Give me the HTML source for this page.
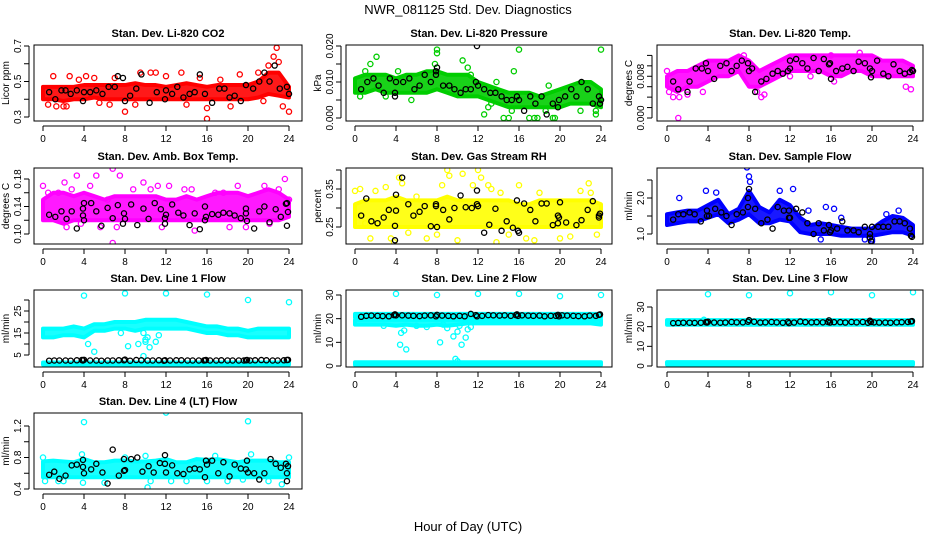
<!DOCTYPE html>
<html><head><meta charset="utf-8"><style>
body{margin:0;background:#fff;}
svg{display:block;font-family:"Liberation Sans",Arial,sans-serif;}
</style></head><body>
<svg id="chart" width="936" height="540" viewBox="0 0 936 540" xmlns="http://www.w3.org/2000/svg">
<rect x="0" y="0" width="936" height="540" fill="#fff"/>
<text x="468" y="14" text-anchor="middle" font-size="13">NWR_081125  Std. Dev. Diagnostics</text>
<text x="468" y="531" text-anchor="middle" font-size="13">Hour of Day (UTC)</text>
</svg>
<script>
const HOURS=[0,1,2,3,4,5,6,7,8,9,10,11,12,13,14,15,16,17,18,19,20,21,22,23,24];
const X_TICKS=[0,4,8,12,16,20,24];
// Panel 1 CO2
const co2Lo=[0.40,0.40,0.39,0.40,0.40,0.41,0.40,0.40,0.40,0.40,0.40,0.40,0.40,0.40,0.40,0.40,0.40,0.40,0.40,0.40,0.40,0.41,0.43,0.42,0.41];
const co2Hi=[0.47,0.47,0.47,0.47,0.48,0.48,0.48,0.48,0.48,0.49,0.48,0.48,0.47,0.48,0.49,0.48,0.47,0.48,0.48,0.48,0.48,0.50,0.55,0.55,0.47];
const co2OutX=[0.5,1,1.3,2,2.3,2.6,4.2,5,5.5,7,8,9.5,10.5,11,9,13.5,14,15.3,16,16,17.3,18.3,19.2,21,21.5,22,22.5,22.8,23,23.4,24,12,3.5,6.5];
const co2OutY=[0.37,0.53,0.36,0.36,0.36,0.53,0.53,0.52,0.38,0.52,0.33,0.55,0.55,0.55,0.37,0.55,0.37,0.52,0.29,0.35,0.51,0.36,0.54,0.55,0.39,0.59,0.64,0.69,0.61,0.36,0.33,0.53,0.51,0.37];
const co2BlkX=[0.6,1.2,1.8,2.2,2.7,3.3,3.9,4,4.6,5.2,5.8,6.4,7,7.3,7.8,8,8.5,9.1,9.6,10.4,11.1,11.9,12,12.6,13.1,13.7,14.3,14.8,15.3,15.8,16.5,17.2,17.7,18.2,18.7,19.3,19.8,20.5,21.1,21.6,22.1,22.6,23.1,23.8,24];
const co2BlkY=[0.44,0.40,0.45,0.45,0.43,0.45,0.39,0.44,0.44,0.45,0.43,0.47,0.47,0.53,0.52,0.39,0.42,0.46,0.54,0.38,0.44,0.40,0.45,0.43,0.47,0.41,0.43,0.44,0.54,0.43,0.38,0.46,0.46,0.41,0.42,0.39,0.48,0.46,0.50,0.55,0.50,0.59,0.46,0.47,0.43];
// Panel 2 Pressure
const prsLo=[.007,.007,.008,.007,.007,.007,.007,.007,.008,.007,.006,.006,.006,.005,.004,.003,.003,.003,.003,.003,.003,.004,.004,.004,.003];
const prsHi=[.011,.012,.012,.012,.011,.012,.012,.013,.013,.012,.012,.012,.010,.009,.008,.007,.007,.007,.006,.007,.008,.009,.010,.010,.008];
const prsOutX=[0.5,1,1.5,2.1,3,4.2,5.5,7.8,8,8,10.5,11,12.6,13,13.3,14.5,15,15.3,15.5,16,17,17.5,17.8,18.6,19.3,19.5,22,23.5,23.5,24,13.8,18.9,11.3];
const prsOutY=[.006,.013,.015,.017,.006,.013,.005,.015,.019,.018,.016,.014,.001,.003,.004,0,0,.002,.013,.019,0,0,0,.002,0,0,.002,.001,.002,.019,.010,.009,.012];
const prsBlkX=[0.6,1.2,1.8,2.3,2.8,3.4,3.9,3.9,4,4.7,5.3,5.8,6.3,6.8,7.4,7.9,7.9,8,8.6,9.2,9.7,10.3,10.8,11.3,11.8,11.9,12,12.6,13.2,13.7,14.3,14.8,15.3,15.8,16,16.5,17.1,17.6,18.2,18.7,19.3,19.8,19.9,20.5,21.1,21.6,22.1,22.7,23.2,23.8,23.9,24];
const prsBlkY=[.008,.010,.011,.009,.007,.011,.006,.007,.010,.010,.011,.008,.009,.012,.010,.012,.013,.014,.009,.009,.008,.007,.008,.008,.010,.020,.009,.008,.007,.007,.006,.005,.005,.006,.005,.002,.006,.004,.006,.001,.004,.003,.005,.006,.008,.006,.010,.008,.004,.006,.004,.005];
// Panel 3 Li-820 Temp
const tmpLo=[.006,.005,.006,.006,.007,.008,.008,.009,.006,.006,.007,.008,.009,.009,.009,.009,.008,.008,.009,.009,.008,.008,.008,.008,.008];
const tmpHi=[.008,.009,.009,.010,.011,.011,.011,.012,.011,.009,.010,.011,.012,.012,.012,.012,.012,.012,.012,.012,.012,.011,.011,.011,.010];
const tmpOutX=[0,0.2,0.6,1.1,1.2,2,3.5,8.8,9.2,9.5,12,14,16.3,23.3,23.8,16,18.8,7.5];
const tmpOutY=[.009,.005,.004,0,.004,.0045,.005,.005,.004,.0045,.008,.008,.007,.006,.0055,.012,.0125,.012];
const tmpBlkX=[0.6,1.1,2,2.2,2.8,3.4,3.8,4,4.6,5.2,5.8,6.3,6.8,7.3,7.9,8,8.3,8.6,9.2,9.7,10.3,10.8,11.3,11.8,12,12,12.6,13.2,13.7,14.3,14.8,15.3,15.8,15.9,16,16.5,17.1,17.6,18.2,18.7,19.3,19.8,19.9,20,20.5,21.1,21.6,22.1,22.7,23.2,23.7,23.9,24];
const tmpBlkY=[.007,.0055,.005,.007,.0095,.0095,.0105,.009,.0075,.010,.0105,.009,.010,.011,.0105,.009,.0095,.005,.007,.0075,.0085,.009,.0085,.009,.011,.0095,.0113,.0105,.0095,.0115,.009,.0113,.0103,.0105,.0075,.009,.0095,.0098,.009,.0108,.0105,.0095,.0078,.009,.011,.0085,.008,.0103,.009,.0085,.0088,.0092,.009];
// Panel 4 Amb Box Temp
const ambLo=[.12,.12,.115,.12,.12,.12,.12,.12,.12,.12,.12,.12,.12,.12,.12,.12,.12,.12,.12,.12,.12,.12,.12,.12,.125];
const ambHi=[.15,.16,.16,.155,.16,.155,.15,.155,.155,.155,.155,.155,.15,.15,.155,.15,.155,.16,.16,.16,.155,.16,.165,.16,.15];
const ambOutX=[0,0.5,1.5,2.1,2.3,2.8,3.3,4.6,5.2,5.6,6.3,6.8,6.8,7.5,7.2,8.8,9.8,10.5,11.2,12.3,11.6,13.8,14.5,14.8,16.8,17.6,18.2,19,21.6,22.1,23.6,23,24,3.7,19.8];
const ambOutY=[.170,.160,.16,.175,.11,.165,.185,.170,.185,.11,.15,.195,.087,.185,.11,.165,.175,.165,.170,.170,.11,.165,.165,.105,.16,.16,.11,.17,.17,.115,.18,.165,.15,.115,.11];
const ambBlkX=[0.6,1.2,1.8,2.3,2.8,3.3,3.9,3.9,4,4,4.7,5.2,5.7,6.3,6.8,7.3,7.8,7.9,8,8.6,9.2,9.8,10.3,10.9,11.5,11.9,11.9,12,12.6,13.2,13.7,14.3,14.8,15.3,15.8,15.8,15.9,16.5,17.1,17.6,18.2,18.7,19.3,19.8,19.8,19.9,20.6,21.1,21.6,22.1,22.7,23.2,23.7,23.8,23.9,23.8];
const ambBlkY=[.128,.125,.133,.122,.133,.108,.137,.127,.145,.120,.145,.133,.112,.138,.123,.142,.115,.130,.122,.143,.113,.137,.122,.145,.136,.115,.123,.128,.143,.131,.127,.113,.130,.107,.140,.120,.125,.129,.128,.131,.130,.127,.123,.137,.130,.119,.108,.133,.140,.117,.136,.125,.144,.145,.132,.112];
// Panel 5 Gas Stream RH
const rhLo=[.25,.25,.25,.25,.25,.25,.25,.25,.25,.25,.25,.25,.25,.25,.25,.25,.25,.25,.25,.25,.25,.25,.25,.25,.25];
const rhHi=[.31,.32,.32,.32,.33,.32,.32,.32,.32,.33,.32,.32,.32,.32,.32,.32,.31,.31,.32,.32,.32,.32,.32,.32,.31];
const rhOutX=[0,0.5,1,1.5,2,3,3.5,3.8,4.3,4.6,5.2,6,7,8,9,9.2,10,10.5,11.5,12,12.3,13,13.3,13.8,14.2,15,16,16.7,17.5,18,20,21,22,22.8,23,23.6,8.5];
const rhOutY=[.345,.35,.26,.22,.345,.355,.22,.21,.38,.365,.235,.33,.22,.23,.40,.385,.215,.39,.36,.40,.38,.36,.35,.21,.34,.23,.36,.22,.215,.34,.22,.225,.345,.365,.34,.23,.36];
const rhBlkX=[0.6,1.1,1.6,2.2,2.8,3.3,3.9,3.9,4,4,4.6,5.2,5.7,6.3,6.8,7.4,7.9,7.9,8,8.6,9.2,9.7,10.3,10.8,11.4,11.9,11.9,12,12.6,13.1,13.7,14.3,14.8,15.4,15.8,15.9,16,16.5,17.1,17.6,18.2,18.7,19.3,19.8,19.8,19.9,20,20.6,21.6,22.1,22.7,23.2,23.8,23.9,23.8];
const rhBlkY=[.28,.325,.265,.26,.275,.295,.253,.215,.335,.293,.38,.31,.28,.29,.305,.252,.31,.305,.25,.295,.27,.30,.333,.302,.30,.346,.31,.305,.235,.256,.298,.24,.265,.248,.32,.24,.235,.312,.295,.265,.312,.312,.255,.26,.28,.275,.315,.262,.255,.268,.295,.318,.28,.285,.275];
// Panel 6 Sample Flow
const sfLo=[1.25,1.30,1.35,1.35,1.45,1.55,1.30,1.40,1.55,1.30,1.30,1.40,1.35,1.05,1.00,1.00,1.00,0.95,0.95,0.95,0.95,1.00,1.05,1.05,0.95];
const sfHi=[1.55,1.60,1.65,1.65,1.80,1.95,1.55,1.70,2.20,1.75,1.60,1.95,1.80,1.45,1.25,1.30,1.25,1.20,1.15,1.15,1.15,1.35,1.50,1.45,1.25];
const sfOutX=[7.8,8,8.1,3.8,4.8,11,12.3,15.5,16.3,13.8,19.3,15,1.2,21.4,22.6,20,17,20];
const sfOutY=[2.85,2.60,2.45,2.20,2.15,2.20,2.25,1.75,1.70,1.65,0.85,0.85,2.0,1.55,1.65,0.80,1.45,0.85];
const sfBlkX=[0.6,1.1,1.6,2.2,2.7,3.3,3.9,3.9,4.1,4.7,5.3,5.8,6.3,6.8,7.4,7.9,7.9,8,8.6,9.2,9.8,10.3,10.8,11.4,11.9,11.9,12,12.6,13.2,13.7,14.3,14.8,15.3,15.8,15.9,16,16.6,17.1,17.6,18.2,18.7,19.3,19.8,19.8,19.9,20,20.6,21.1,21.6,22.2,22.7,23.2,23.7,23.8,23.9];
const sfBlkY=[1.4,1.55,1.55,1.6,1.55,1.35,1.5,1.65,1.5,1.7,1.6,1.5,1.25,1.55,1.6,1.75,2.0,2.25,1.7,1.3,1.4,1.15,1.75,1.65,1.65,1.45,1.45,1.7,1.6,1.3,1.0,1.3,1.1,1.25,1.05,1.1,1.15,1.35,1.1,1.1,1.05,1.2,0.9,1.0,0.8,1.2,1.2,1.2,1.2,1.35,1.35,1.3,1.15,0.95,0.92];
// Lines 1-3
const lineBlkX=[0.6,1.1,1.6,2.2,2.7,3.3,3.8,3.9,4.0,4.6,5.2,5.7,6.3,6.8,7.4,7.9,8.0,8.5,9.1,9.6,10.2,10.7,11.3,11.8,11.9,12.4,13.0,13.5,14.1,14.6,15.2,15.7,15.8,15.9,16.3,16.9,17.4,18.0,18.5,19.1,19.6,19.8,19.9,20.2,20.7,21.3,21.8,22.4,22.9,23.5,23.8,23.9];
const l1BlkY=[2.4,2.5,2.5,2.5,2.4,2.6,2.7,2.5,2.8,2.5,2.5,2.4,2.5,2.5,2.6,2.6,2.9,2.4,2.7,2.6,2.5,2.5,2.6,2.4,2.6,2.5,2.6,2.6,2.5,2.5,2.5,2.5,2.6,2.7,2.5,2.5,2.6,2.5,2.5,2.5,2.5,2.6,2.7,2.5,2.6,2.7,2.6,2.5,2.5,2.6,2.7,2.8];
const l2BlkY=[20.8,21.2,21.3,21.2,21.1,21.0,21.5,21.8,21.4,21.4,21.3,21.2,21.1,21.3,21.4,21.0,21.6,21.3,21.2,21.0,21.2,21.0,22.0,21.5,21.0,21.2,21.5,21.4,21.3,21.4,21.2,21.5,21.8,21.2,21.4,21.3,21.2,21.3,21.0,21.2,21.2,21.6,21.0,21.4,21.3,21.2,21.1,21.0,21.3,21.2,21.6,21.8];
const l3BlkY=[21.8,21.9,22.0,22.0,21.9,22.0,22.3,22.1,22.5,22.1,22.0,22.1,22.4,22.2,22.2,22.5,23.3,22.5,22.1,22.2,22.4,22.2,22.0,22.5,21.8,22.1,22.6,22.3,22.2,22.3,22.2,22.4,23.2,22.1,22.3,22.3,22.1,22.4,22.2,22.4,22.0,23.0,22.4,22.2,22.1,22.1,22.0,22.2,22.3,22.4,22.6,22.8];
const l1Lo=[13,13,14,14,13,16,16,17,17,16,17,17,17,17,17,16,15,15,14,14,13,13,13,13,13];
const l1Hi=[17,17,17,18,17,19,19,20,20,20,21,21,21,21,20,19,18,18,17,17,16,17,17,17,17];
const baseHours=[0,24];
const l1BaseLo=[0.6,0.6];
const l1BaseHi=[1.6,1.6];
const l1OutX=[4,8,12,16,20,24,4.4,5,7.6,8.3,9.3,9.8,10,10.2,10.4,11,11.3,9.8,10];
const l1OutY=[32,33,33,32.5,30,29,10,6.5,15,9,10,4.5,12,13,8.5,11,14,15,11];
const l2Lo=[17.5,17.5,17.5,17.5,17,17.5,17,17,17.5,17,17.5,18,18,18,18,18,18,18,18,18,18,18,18,18,17.5];
const l2Hi=[19.5,19.5,19.5,19.5,19.5,19.5,19.5,19.5,19.5,19.5,19.5,19.5,19.5,19.5,19.5,19.5,19.5,19.5,19.5,19.5,19.5,19.5,19.5,19.5,19.5];
const l2TopLo=[20.5,20.5];
const l2TopHi=[22,22];
const l2BaseLo=[0.5,0.5];
const l2BaseHi=[1.6,1.6];
const l2OutX=[4,8,12,16,20,24,4.4,4.5,4.8,5,6,8.3,8.6,9,9.6,9.8,10,10.2,10.4,10.8,11,11.3,2.8,7,10];
const l2OutY=[30.5,30,30.5,30.5,29.5,30,9,14,15,7,17,10,17.5,16,12.5,3,14.5,17,9,12,15.5,16.5,17,16.5,2];
const l3Lo=[21,21];
const l3Hi=[23.3,23.3];
const l3BaseLo=[0.7,0.7];
const l3BaseHi=[2.0,2.0];
const l3OutX=[4,8,12,16,20,24,3.6];
const l3OutY=[36.5,36,37,37.5,36,37.5,23.5];
// Line 4
const l4Lo=[.55,.55,.55,.55,.55,.55,.55,.55,.55,.55,.55,.55,.55,.55,.55,.55,.55,.55,.55,.55,.55,.55,.55,.55,.55];
const l4Hi=[.75,.76,.75,.74,.78,.74,.74,.76,.76,.75,.75,.76,.78,.74,.74,.78,.77,.78,.76,.74,.76,.76,.76,.74,.74];
const l4OutX=[0,0.2,1.5,2,3.8,3.9,4,6,8,10,10.2,10.5,12,12.5,16,16.8,18,20,20.3,22,23.3,24,19.5,14];
const l4OutY=[0.8,0.5,0.5,0.5,0.84,0.48,1.25,0.48,0.8,0.82,0.42,0.5,1.37,0.5,0.5,0.82,0.5,1.26,0.84,0.5,0.46,0.8,0.52,0.5];
const l4BlkX=[0.6,1.1,1.6,2.2,2.8,3.3,3.9,3.9,4,4.7,5.2,5.8,6.3,6.8,7.4,7.9,7.9,8,8.6,9.2,9.7,10.3,10.8,11.4,11.9,11.9,12,12.6,13.1,13.7,14.3,14.8,15.3,15.8,15.9,16,16.5,17.1,17.6,18.2,18.7,19.3,19.8,19.9,20,20.6,21.1,21.6,22.2,22.7,23.2,23.7,23.8,23.9,23.8];
const l4BlkY=[.58,.62,.53,.57,.70,.71,.68,.77,.60,.65,.72,.61,.47,.90,.57,.63,.78,.64,.78,.80,.62,.69,.61,.73,.83,.72,.61,.70,.60,.59,.65,.66,.65,.55,.76,.71,.76,.60,.74,.56,.71,.66,.65,.76,.61,.60,.52,.60,.78,.72,.67,.72,.60,.69,.50];

const NS='http://www.w3.org/2000/svg';
const svg=document.getElementById('chart');
const COL_L=[34,346,657], COL_R=[302,612,923], COL_X0=[43,355,667], PXH=10.25;
const ROW_T=[45,168,290,413], ROW_B=[121,244,367,489];
function mk(tag,attrs,parent){const e=document.createElementNS(NS,tag);for(const k in attrs)e.setAttribute(k,attrs[k]);(parent||svg).appendChild(e);return e;}

function panel(cfg){
  const c=cfg.col,r=cfg.row;
  const L=COL_L[c],R=COL_R[c],T=ROW_T[r],B=ROW_B[r];
  const g=mk('g',{});
  
  
  const xs=h=>COL_X0[c]+h*PXH;
  const ys=v=>cfg.py0+(v-cfg.v0)*(cfg.py1-cfg.py0)/(cfg.v1-cfg.v0);
  const cp='clip'+cfg.name;
  const cl=mk('clipPath',{id:cp},g);mk('rect',{x:L,y:T,width:R-L,height:B-T},cl);
  const data=mk('g',{'clip-path':'url(#'+cp+')'},g);
  (cfg.bands||[]).forEach(b=>{
    const pts=[];
    for(let i=0;i<b.h.length;i++)pts.push(xs(b.h[i])+','+ys(b.hi[i]));
    for(let i=b.h.length-1;i>=0;i--)pts.push(xs(b.h[i])+','+ys(b.lo[i]));
    const p=mk('polygon',{points:pts.join(' '),fill:cfg.color,'fill-opacity':0.9,stroke:cfg.color,'stroke-width':4,'stroke-linejoin':'round'},data);
    
    
  });
  (cfg.pts||[]).forEach(s=>{
    for(let i=0;i<s.x.length;i++){
      const e=mk('circle',{cx:xs(s.x[i]),cy:ys(s.y[i]),r:2.6,fill:'none',stroke:s.color,'stroke-width':1.3},data);
      
      
    }
  });
  mk('rect',{x:L,y:T,width:R-L,height:B-T,fill:'none',stroke:'#000','stroke-width':1},g);
  const t=mk('text',{x:(L+R)/2,y:T-8,'text-anchor':'middle','font-size':11,'font-weight':'bold'},g);
  t.textContent=cfg.title;
  
  
  mk('line',{x1:xs(0),x2:xs(24),y1:B+5,y2:B+5,stroke:'#000'},g);
  X_TICKS.forEach(h=>{
    mk('line',{x1:xs(h),x2:xs(h),y1:B+5,y2:B+10,stroke:'#000'},g);
    const tl=mk('text',{x:xs(h),y:B+21,'text-anchor':'middle','font-size':10},g);
    tl.textContent=h;
    
    
  });
  const yt=cfg.yticks;
  mk('line',{x1:L-5,x2:L-5,y1:ys(yt[0]),y2:ys(yt[yt.length-1]),stroke:'#000'},g);
  yt.forEach(v=>mk('line',{x1:L-10,x2:L-5,y1:ys(v),y2:ys(v),stroke:'#000'},g));
  cfg.ylabels.forEach((lab,i)=>{
    const yy=ys(cfg.ylabelVals[i]);
    const tl=mk('text',{x:L-13,y:yy,'text-anchor':'middle','font-size':10,transform:'rotate(-90 '+(L-13)+' '+yy+')'},g);
    tl.textContent=lab;
    
    
  });
  const my=(T+B)/2;
  const yl=mk('text',{x:L-25,y:my,'text-anchor':'middle','font-size':10,transform:'rotate(-90 '+(L-25)+' '+my+')'},g);
  yl.textContent=cfg.ylab;
  
  
}

panel({name:'panel-co2',col:0,row:0,title:'Stan. Dev. Li-820 CO2',ylab:'Licor ppm',color:'#ff0000',v0:0.3,py0:117,v1:0.7,py1:46,
 yticks:[0.3,0.4,0.5,0.6,0.7],ylabelVals:[0.3,0.5,0.7],ylabels:['0.3','0.5','0.7'],
 bands:[{h:HOURS,lo:co2Lo,hi:co2Hi}],pts:[{x:co2OutX,y:co2OutY,color:'#ff0000'},{x:co2BlkX,y:co2BlkY,color:'#000'}]});
panel({name:'panel-pressure',col:1,row:0,title:'Stan. Dev. Li-820 Pressure',ylab:'kPa',color:'#00cd00',v0:0,py0:118,v1:0.02,py1:46,
 yticks:[0,.005,.01,.015,.02],ylabelVals:[0,.01,.02],ylabels:['0.000','0.010','0.020'],
 bands:[{h:HOURS,lo:prsLo,hi:prsHi}],pts:[{x:prsOutX,y:prsOutY,color:'#00cd00'},{x:prsBlkX,y:prsBlkY,color:'#000'}]});
panel({name:'panel-li820-temp',col:2,row:0,title:'Stan. Dev. Li-820 Temp.',ylab:'degrees C',color:'#ff00ff',v0:0,py0:118,v1:0.012,py1:55.4,
 yticks:[0,.002,.004,.006,.008,.010,.012],ylabelVals:[0,.008],ylabels:['0.000','0.008'],
 bands:[{h:HOURS,lo:tmpLo,hi:tmpHi}],pts:[{x:tmpOutX,y:tmpOutY,color:'#ff00ff'},{x:tmpBlkX,y:tmpBlkY,color:'#000'}]});
panel({name:'panel-amb-box-temp',col:0,row:1,title:'Stan. Dev. Amb. Box Temp.',ylab:'degrees C',color:'#ff00ff',v0:0.10,py0:234,v1:0.18,py1:179,
 yticks:[.10,.12,.14,.16,.18],ylabelVals:[.10,.14,.18],ylabels:['0.10','0.14','0.18'],
 bands:[{h:HOURS,lo:ambLo,hi:ambHi}],pts:[{x:ambOutX,y:ambOutY,color:'#ff00ff'},{x:ambBlkX,y:ambBlkY,color:'#000'}]});
panel({name:'panel-gas-rh',col:1,row:1,title:'Stan. Dev. Gas Stream RH',ylab:'percent',color:'#ffff00',v0:0.25,py0:227,v1:0.35,py1:189,
 yticks:[.25,.30,.35,.40],ylabelVals:[.25,.35],ylabels:['0.25','0.35'],
 bands:[{h:HOURS,lo:rhLo,hi:rhHi}],pts:[{x:rhOutX,y:rhOutY,color:'#ffff00'},{x:rhBlkX,y:rhBlkY,color:'#000'}]});
panel({name:'panel-sample-flow',col:2,row:1,title:'Stan. Dev. Sample Flow',ylab:'ml/min',color:'#0000ff',v0:1.0,py0:234,v1:2.0,py1:198,
 yticks:[1.0,1.5,2.0,2.5],ylabelVals:[1.0,2.0],ylabels:['1.0','2.0'],
 bands:[{h:HOURS,lo:sfLo,hi:sfHi}],pts:[{x:sfOutX,y:sfOutY,color:'#0000ff'},{x:sfBlkX,y:sfBlkY,color:'#000'}]});
panel({name:'panel-line1-flow',col:0,row:2,title:'Stan. Dev. Line 1 Flow',ylab:'ml/min',color:'#00ffff',v0:5,py0:355,v1:25,py1:311,
 yticks:[5,10,15,20,25,30],ylabelVals:[5,15,25],ylabels:['5','15','25'],
 bands:[{h:HOURS,lo:l1Lo,hi:l1Hi},{h:baseHours,lo:l1BaseLo,hi:l1BaseHi}],pts:[{x:l1OutX,y:l1OutY,color:'#00ffff'},{x:lineBlkX,y:l1BlkY,color:'#000'}]});
panel({name:'panel-line2-flow',col:1,row:2,title:'Stan. Dev. Line 2 Flow',ylab:'ml/min',color:'#00ffff',v0:0,py0:366,v1:30,py1:295,
 yticks:[0,10,20,30],ylabelVals:[0,10,20,30],ylabels:['0','10','20','30'],
 bands:[{h:HOURS,lo:l2Lo,hi:l2Hi},{h:baseHours,lo:l2TopLo,hi:l2TopHi},{h:baseHours,lo:l2BaseLo,hi:l2BaseHi}],pts:[{x:l2OutX,y:l2OutY,color:'#00ffff'},{x:lineBlkX,y:l2BlkY,color:'#000'}]});
panel({name:'panel-line3-flow',col:2,row:2,title:'Stan. Dev. Line 3 Flow',ylab:'ml/min',color:'#00ffff',v0:0,py0:366,v1:30,py1:307,
 yticks:[0,10,20,30],ylabelVals:[0,10,20,30],ylabels:['0','10','20','30'],
 bands:[{h:baseHours,lo:l3Lo,hi:l3Hi},{h:baseHours,lo:l3BaseLo,hi:l3BaseHi}],pts:[{x:l3OutX,y:l3OutY,color:'#00ffff'},{x:lineBlkX,y:l3BlkY,color:'#000'}]});
panel({name:'panel-line4-flow',col:0,row:3,title:'Stan. Dev. Line 4 (LT) Flow',ylab:'ml/min',color:'#00ffff',v0:0.4,py0:489,v1:1.2,py1:426,
 yticks:[0.4,0.6,0.8,1.0,1.2],ylabelVals:[0.4,0.8,1.2],ylabels:['0.4','0.8','1.2'],
 bands:[{h:HOURS,lo:l4Lo,hi:l4Hi}],pts:[{x:l4OutX,y:l4OutY,color:'#00ffff'},{x:lineBlkX.length?l4BlkX:l4BlkX,y:l4BlkY,color:'#000'}]});
</script>
</body></html>
